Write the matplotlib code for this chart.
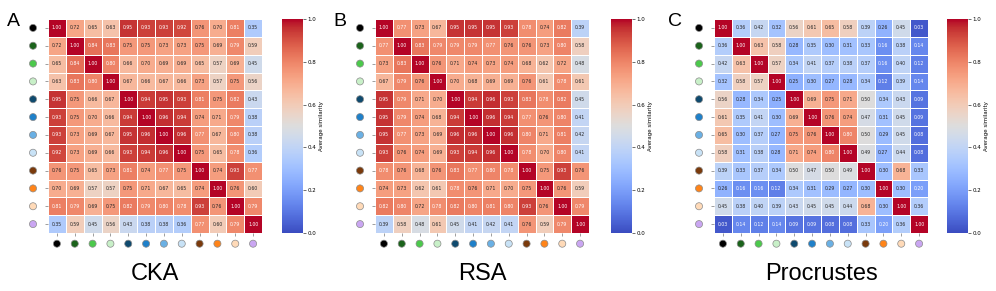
import numpy as np
import matplotlib
matplotlib.use("Agg")
import matplotlib.pyplot as plt
import seaborn as sns

cka = [
    [1.00, 0.72, 0.65, 0.63, 0.95, 0.93, 0.93, 0.92, 0.76, 0.70, 0.81, 0.35],
    [0.72, 1.00, 0.84, 0.83, 0.75, 0.75, 0.73, 0.73, 0.75, 0.69, 0.79, 0.59],
    [0.65, 0.84, 1.00, 0.80, 0.66, 0.70, 0.69, 0.69, 0.65, 0.57, 0.69, 0.45],
    [0.63, 0.83, 0.80, 1.00, 0.67, 0.66, 0.67, 0.66, 0.73, 0.57, 0.75, 0.56],
    [0.95, 0.75, 0.66, 0.67, 1.00, 0.94, 0.95, 0.93, 0.81, 0.75, 0.82, 0.43],
    [0.93, 0.75, 0.70, 0.66, 0.94, 1.00, 0.96, 0.94, 0.74, 0.71, 0.79, 0.38],
    [0.93, 0.73, 0.69, 0.67, 0.95, 0.96, 1.00, 0.96, 0.77, 0.67, 0.80, 0.38],
    [0.92, 0.73, 0.69, 0.66, 0.93, 0.94, 0.96, 1.00, 0.75, 0.65, 0.78, 0.36],
    [0.76, 0.75, 0.65, 0.73, 0.81, 0.74, 0.77, 0.75, 1.00, 0.74, 0.93, 0.77],
    [0.70, 0.69, 0.57, 0.57, 0.75, 0.71, 0.67, 0.65, 0.74, 1.00, 0.76, 0.60],
    [0.81, 0.79, 0.69, 0.75, 0.82, 0.79, 0.80, 0.78, 0.93, 0.76, 1.00, 0.79],
    [0.35, 0.59, 0.45, 0.56, 0.43, 0.38, 0.38, 0.36, 0.77, 0.60, 0.79, 1.00],
]

rsa = [
    [1.00, 0.77, 0.73, 0.67, 0.95, 0.95, 0.95, 0.93, 0.78, 0.74, 0.82, 0.39],
    [0.77, 1.00, 0.83, 0.79, 0.79, 0.79, 0.77, 0.76, 0.76, 0.73, 0.80, 0.58],
    [0.73, 0.83, 1.00, 0.76, 0.71, 0.74, 0.73, 0.74, 0.68, 0.62, 0.72, 0.48],
    [0.67, 0.79, 0.76, 1.00, 0.70, 0.68, 0.69, 0.69, 0.76, 0.61, 0.78, 0.61],
    [0.95, 0.79, 0.71, 0.70, 1.00, 0.94, 0.96, 0.93, 0.83, 0.78, 0.82, 0.45],
    [0.95, 0.79, 0.74, 0.68, 0.94, 1.00, 0.96, 0.94, 0.77, 0.76, 0.80, 0.41],
    [0.95, 0.77, 0.73, 0.69, 0.96, 0.96, 1.00, 0.96, 0.80, 0.71, 0.81, 0.42],
    [0.93, 0.76, 0.74, 0.69, 0.93, 0.94, 0.96, 1.00, 0.78, 0.70, 0.80, 0.41],
    [0.78, 0.76, 0.68, 0.76, 0.83, 0.77, 0.80, 0.78, 1.00, 0.75, 0.93, 0.76],
    [0.74, 0.73, 0.62, 0.61, 0.78, 0.76, 0.71, 0.70, 0.75, 1.00, 0.76, 0.59],
    [0.82, 0.80, 0.72, 0.78, 0.82, 0.80, 0.81, 0.80, 0.93, 0.76, 1.00, 0.79],
    [0.39, 0.58, 0.48, 0.61, 0.45, 0.41, 0.42, 0.41, 0.76, 0.59, 0.79, 1.00],
]

procrustes = [
    [1.00, 0.36, 0.42, 0.32, 0.56, 0.61, 0.65, 0.58, 0.39, 0.26, 0.45, 0.03],
    [0.36, 1.00, 0.63, 0.58, 0.28, 0.35, 0.30, 0.31, 0.33, 0.16, 0.38, 0.14],
    [0.42, 0.63, 1.00, 0.57, 0.34, 0.41, 0.37, 0.38, 0.37, 0.16, 0.40, 0.12],
    [0.32, 0.58, 0.57, 1.00, 0.25, 0.30, 0.27, 0.28, 0.34, 0.12, 0.39, 0.14],
    [0.56, 0.28, 0.34, 0.25, 1.00, 0.69, 0.75, 0.71, 0.50, 0.34, 0.43, 0.09],
    [0.61, 0.35, 0.41, 0.30, 0.69, 1.00, 0.76, 0.74, 0.47, 0.31, 0.45, 0.09],
    [0.65, 0.30, 0.37, 0.27, 0.75, 0.76, 1.00, 0.80, 0.50, 0.29, 0.45, 0.08],
    [0.58, 0.31, 0.38, 0.28, 0.71, 0.74, 0.80, 1.00, 0.49, 0.27, 0.44, 0.08],
    [0.39, 0.33, 0.37, 0.34, 0.50, 0.47, 0.50, 0.49, 1.00, 0.30, 0.68, 0.33],
    [0.26, 0.16, 0.16, 0.12, 0.34, 0.31, 0.29, 0.27, 0.30, 1.00, 0.30, 0.20],
    [0.45, 0.38, 0.40, 0.39, 0.43, 0.45, 0.45, 0.44, 0.68, 0.30, 1.00, 0.36],
    [0.03, 0.14, 0.12, 0.14, 0.09, 0.09, 0.08, 0.08, 0.33, 0.20, 0.36, 1.00],
]

marker_colors = ["#000000", "#1b631b", "#4cc94c", "#c8f0c8", "#0f4a6e", "#1f80c9",
                 "#6ab0e4", "#c8e2f6", "#7a3a0c", "#ff8419", "#ffdab8", "#caa6f2"]

panel_titles = ["CKA", "RSA", "Procrustes"]
panel_letters = ["A", "B", "C"]
matrices = [cka, rsa, procrustes]

W, H = 996, 291
fig = plt.figure(figsize=(W / 100, H / 100), dpi=100)

def fr(x, y, w, h):
    return [x / W, 1 - (y + h) / H, w / W, h / H]

heat_x = [48, 375, 714]
cbar_x = [282, 611, 947]
top, size = 19, 214

for k in range(3):
    ax = fig.add_axes(fr(heat_x[k], top, size, size))
    cax = fig.add_axes(fr(cbar_x[k], top, 21, size))
    data = np.array(matrices[k])
    sns.heatmap(data, ax=ax, cbar_ax=cax, cmap="coolwarm", vmin=0, vmax=1,
                annot=True, fmt=".2f", annot_kws={"fontsize": 3.3},
                linewidths=0.5, linecolor="white",
                cbar_kws={"label": "Average similarity"})
    n = data.shape[0]
    ax.set_xticks(np.arange(n) + 0.5)
    ax.set_yticks(np.arange(n) + 0.5)
    ax.set_xticklabels([""] * n)
    ax.set_yticklabels([""] * n)
    ax.tick_params(length=2, width=0.4, color="#555555", pad=0)
    pos = np.arange(n) + 0.5
    ax.scatter(np.full(n, -0.84), pos, s=26, c=marker_colors,
               edgecolors="#8a8a8a", linewidths=0.5, clip_on=False, zorder=5)
    ax.scatter(pos, np.full(n, n + 0.6), s=26, c=marker_colors,
               edgecolors="#8a8a8a", linewidths=0.5, clip_on=False, zorder=5)
    cax.tick_params(labelsize=4, length=2, width=0.4, pad=1)
    cax.set_yticks([0.0, 0.2, 0.4, 0.6, 0.8, 1.0])
    cax.set_yticklabels(["0.0", "0.2", "0.4", "0.6", "0.8", "1.0"])
    cax.yaxis.label.set_size(4)
    cax.yaxis.labelpad = 2
    cx = (heat_x[k] + size / 2) / W
    fig.text(cx, 1 - 280 / H, panel_titles[k], ha="center", va="baseline",
             fontsize=17, fontfamily="Liberation Sans")
    lx = [7, 333, 668][k]
    fig.text(lx / W, 1 - 26 / H, panel_letters[k], ha="left", va="baseline",
             fontsize=14, fontfamily="Liberation Sans")

fig.savefig("out.png", dpi=100)
